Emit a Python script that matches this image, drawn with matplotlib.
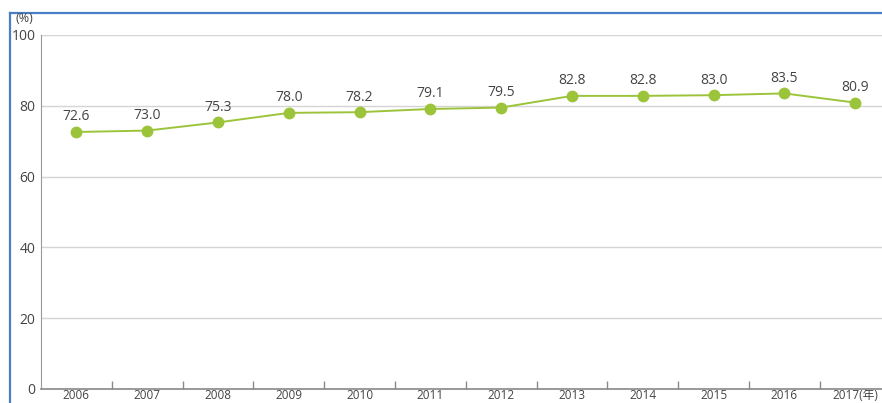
import matplotlib
matplotlib.use("Agg")
import matplotlib.pyplot as plt
from matplotlib.lines import Line2D

years = ["2006", "2007", "2008", "2009", "2010", "2011", "2012", "2013", "2014", "2015", "2016", "2017(年)"]
values = [72.6, 73.0, 75.3, 78.0, 78.2, 79.1, 79.5, 82.8, 82.8, 83.0, 83.5, 80.9]
yticks = [0, 20, 40, 60, 80, 100]

plt.rcParams['font.family'] = ['Open Sans', 'Noto Sans CJK SC', 'DejaVu Sans']

W, H = 882, 403
fig = plt.figure(figsize=(W / 100, H / 100), dpi=100)
fig.patch.set_facecolor("white")

# axes: left spine at x=41, y=0 at 389, y=100 at 35; category width ~70.8
left = 41 / W
bottom = (H - 389) / H
width = 12 * 70.8 / W
height = (389 - 35) / H
ax = fig.add_axes([left, bottom, width, height])
ax.set_facecolor("white")

x = list(range(len(years)))
ax.plot(x, values, color="#9cc43a", lw=1.4, marker="o", ms=7.5,
        markerfacecolor="#9cc43a", markeredgecolor="#9cc43a", zorder=3, clip_on=False)
for xi, v in zip(x, values):
    ax.annotate(f"{v:.1f}", (xi, v), xytext=(0, 5.5), textcoords="offset points",
                ha="center", va="bottom", fontsize=10, color="#444444")

ax.set_xlim(-0.5, len(years) - 0.5)
ax.set_ylim(0, 100)
ax.set_yticks(yticks)
ax.set_yticklabels([str(t) for t in yticks], fontsize=10, color="#444444")
ax.grid(axis="y", color="#d4d4d4", lw=1)
ax.set_axisbelow(True)

ax.set_xticks(x)
ax.set_xticklabels(years, fontsize=8.5, color="#444444")
ax.tick_params(axis="x", length=0, pad=0)
ax.tick_params(axis="y", length=0, pad=4)
# category boundary ticks pointing up
ax.set_xticks([i + 0.5 for i in range(len(years) - 1)], minor=True)
ax.tick_params(axis="x", which="minor", direction="in", length=6, color="#888888", width=1)

for s in ["top", "right"]:
    ax.spines[s].set_visible(False)
ax.spines["left"].set_color("#999999")
ax.spines["bottom"].set_color("#888888")
ax.spines["bottom"].set_linewidth(1.2)

fig.text(15 / W, 1 - 19 / H, "(%)", fontsize=9, color="#444444", ha="left", va="center")

# blue frame
blue = "#4a7ec6"
fig.add_artist(Line2D([10 / W, 10 / W], [0, 1 - 13 / H], color=blue, lw=1.6, transform=fig.transFigure))
fig.add_artist(Line2D([10 / W, 1], [1 - 13 / H, 1 - 13 / H], color=blue, lw=1.6, transform=fig.transFigure))

fig.savefig("out.png", dpi=100, facecolor="white")
